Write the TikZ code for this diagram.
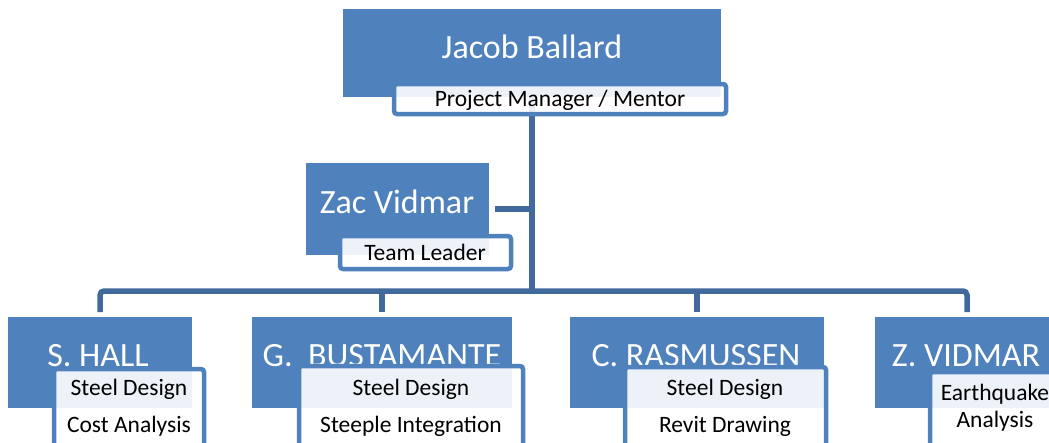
\documentclass[tikz,border=0pt]{standalone}
\usepackage{fontspec}
\setmainfont{Carlito}
\definecolor{boxblue}{HTML}{4F81BD}
\definecolor{linkblue}{HTML}{41699C}
\begin{document}
\begin{tikzpicture}[x=1pt,y=-1pt,
  namebox/.style={fill=boxblue, inner sep=0pt, outer sep=0pt, anchor=north west},
  rolebox/.style={draw=boxblue, line width=4.5pt, rounded corners=3pt, fill=white,
    fill opacity=0.9, draw opacity=1, inner sep=0pt, outer sep=0pt, anchor=north west},
  nametext/.style={text=white, font=\fontsize{34}{40}\selectfont, anchor=base, inner sep=0pt},
  roletext/.style={text=black, font=\fontsize{23.5}{28}\selectfont, anchor=base, inner sep=0pt},
  link/.style={draw=linkblue, line width=5.5pt}]
\useasboundingbox (0,0) rectangle (1049,442);
\clip (0,0) rectangle (1049,442);

% name boxes
\node[namebox, minimum width=378pt, minimum height=88pt] (jb) at (343,9) {};
\node[namebox, minimum width=183pt, minimum height=92pt] (zac) at (306,163) {};
\node[namebox, minimum width=184pt, minimum height=91pt] (sh) at (8,317) {};
\node[namebox, minimum width=260pt, minimum height=91pt] (gb) at (252,317) {};
\node[namebox, minimum width=254pt, minimum height=91pt] (cr) at (570,317) {};
\node[namebox, minimum width=184pt, minimum height=91pt] (zv) at (875,317) {};

% connectors
\coordinate (bus) at (532,291);
\draw[link] (jb.south) -- (bus);
\draw[link, shorten <=6pt] (zac.east) -- (zac.east -| bus);
\draw[link, rounded corners=4pt, shorten <=5pt, shorten >=5pt] (sh.north) |- (bus) -| (zv.north);
\draw[link, shorten >=5pt] (gb.north |- bus) -- (gb.north);
\draw[link, shorten >=5pt] (cr.north |- bus) -- (cr.north);

% names
\node[nametext] (jbt) at (532,58) {Jacob Ballard};
\node[nametext] (zact) at (397,213) {Zac Vidmar};
\node[nametext] (sht) at (98,366) {S. HALL};
\node[nametext] (gbt) at (382,366) {G.\ \ BUSTAMANTE};
\node[nametext] (crt) at (696,366) {C. RASMUSSEN};
\node[nametext] (zvt) at (966,366) {Z. VIDMAR};

% role boxes
\node[rolebox, minimum width=332pt, minimum height=30pt] (jbr) at (394,84) {};
\node[rolebox, minimum width=171pt, minimum height=33pt] (zacr) at (340,236) {};
\node[rolebox, minimum width=150pt, minimum height=100pt] (shr) at (54,369) {};
\node[rolebox, minimum width=224pt, minimum height=100pt] (gbr) at (299,366) {};
\node[rolebox, minimum width=201pt, minimum height=100pt] (crr) at (625,367) {};
\node[rolebox, minimum width=130pt, minimum height=100pt] (zvr) at (930,372) {};

% role texts
\node[roletext] (jbr1) at (560,106) {Project Manager / Mentor};
\node[roletext] (zacr1) at (425,260) {Team Leader};
\node[roletext] (shr1) at (129,395) {Steel Design};
\node[roletext] (shr2) at (129,432) {Cost Analysis};
\node[roletext] (gbr1) at (411,395) {Steel Design};
\node[roletext] (gbr2) at (411,432) {Steeple Integration};
\node[roletext] (crr1) at (725,395) {Steel Design};
\node[roletext] (crr2) at (725,432) {Revit Drawing};
\node[roletext] (zvr1) at (995,400) {Earthquake};
\node[roletext] (zvr2) at (995,427) {Analysis};
\end{tikzpicture}
\end{document}
